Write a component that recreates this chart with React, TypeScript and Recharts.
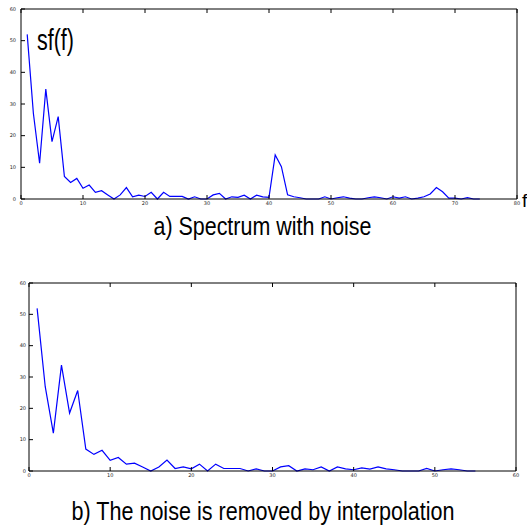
import React from 'react';
import { LineChart, Line, XAxis, YAxis } from 'recharts';

// sf(f), f = 1..74
const noisySpectrum = [
  52, 27, 11.3, 34.7, 18.1, 26, 7.1, 5.2, 6.5, 3.4,
  4.4, 2.1, 2.6, 1.3, 0, 1.3, 3.6, 0.7, 1.2, 0.8,
  2.1, 0, 2.1, 0.8, 0.8, 0.8, 0, 0.7, 0, 0,
  1.3, 1.8, 0, 0.7, 0.5, 1.2, 0, 1.2, 0.7, 0.5,
  13.9, 10.2, 1.3, 0.7, 0.4, 0, 0, 0, 0.7, 0,
  0.4, 0.7, 0.3, 0, 0, 0.4, 0.7, 0.4, 0, 0.7,
  0.3, 0.7, 0, 0.3, 0.7, 1.6, 3.6, 2.3, 0.3, 0.3,
  0, 0.4, 0, 0,
];

// lower panel after interpolation, f = 1..55
const cleanSpectrum = [
  51.9, 26.9, 12.1, 33.8, 18.5, 25.7, 7, 5.3, 6.6, 3.4,
  4.3, 2.2, 2.5, 1.3, 0, 1.3, 3.5, 0.8, 1.3, 0.7,
  2.2, 0, 2.2, 0.8, 0.8, 0.8, 0, 0.7, 0, 0,
  1.3, 1.7, 0, 0.7, 0.4, 1.3, 0, 1.3, 0.7, 0.4,
  1.0, 0.6, 1.3, 0.7, 0.4, 0, 0, 0, 0.8, 0,
  0.4, 0.7, 0.4, 0, 0,
];

const xTicksNoisy = [0, 10, 20, 30, 40, 50, 60, 70, 80];
const xTicksClean = [0, 10, 20, 30, 40, 50, 60];
const yTicks = [0, 10, 20, 30, 40, 50, 60];

const toRows = (vals: number[]) => vals.map((v, i) => ({ f: i + 1, v }));

const tickFont = { fontSize: 5, fill: '#222', fontFamily: 'DejaVu Sans' };
const blank = () => '';

function Spectrum({ rows, xMax, xTicks, height, margin, yWidth, xHeight, yMargin, xMargin }: any) {
  return (
    <LineChart width={527} height={height} data={rows} margin={margin}>
      <XAxis
        xAxisId="b"
        dataKey="f"
        type="number"
        domain={[0, xMax]}
        ticks={xTicks}
        height={xHeight}
        tickSize={-4}
        tickMargin={xMargin}
        stroke="#000"
        tick={tickFont}
        interval={0}
      />
      <XAxis
        xAxisId="t"
        orientation="top"
        dataKey="f"
        type="number"
        domain={[0, xMax]}
        ticks={xTicks}
        height={1}
        tickSize={-4}
        stroke="#000"
        tickFormatter={blank}
      />
      <YAxis
        yAxisId="l"
        domain={[0, 60]}
        ticks={yTicks}
        width={yWidth}
        tickSize={-4}
        tickMargin={yMargin}
        stroke="#000"
        tick={tickFont}
        interval={0}
      />
      <YAxis
        yAxisId="r"
        orientation="right"
        domain={[0, 60]}
        ticks={yTicks}
        width={1}
        tickSize={-4}
        stroke="#000"
        tickFormatter={blank}
      />
      <Line
        xAxisId="b"
        yAxisId="l"
        dataKey="v"
        stroke="#0000ff"
        strokeWidth={1.2}
        dot={false}
        activeDot={false}
        isAnimationActive={false}
      />
    </LineChart>
  );
}

const captionFont = "'Liberation Sans Narrow', 'Liberation Sans', Arial, sans-serif";

export default function App() {
  return (
    <div style={{ position: 'absolute', left: 0, top: 0, width: 527, height: 528, background: '#fff' }}>
      <div style={{ position: 'absolute', left: 0, top: 0 }}>
        <Spectrum
          rows={toRows(noisySpectrum)}
          xMax={80}
          xTicks={xTicksNoisy}
          height={215}
          margin={{ top: 8, right: 9, bottom: 0, left: 0 }}
          yWidth={21}
          xHeight={16}
          yMargin={9}
          xMargin={6}
        />
      </div>
      <div style={{ position: 'absolute', left: 0, top: 270 }}>
        <Spectrum
          rows={toRows(cleanSpectrum)}
          xMax={60}
          xTicks={xTicksClean}
          height={215}
          margin={{ top: 12, right: 10, bottom: 0, left: 0 }}
          yWidth={29}
          xHeight={14}
          yMargin={7}
          xMargin={6}
        />
      </div>
      <svg width={527} height={528} style={{ position: 'absolute', left: 0, top: 0, pointerEvents: 'none' }}>
        <text x={37} y={50} fontSize={29} fontFamily={captionFont} textLength={37} lengthAdjust="spacingAndGlyphs" fill="#000">
          sf(f)
        </text>
        <text x={522} y={207} fontSize={19} fontFamily={captionFont} fill="#000">
          f
        </text>
        <text x={153.5} y={235} fontSize={26} fontFamily={captionFont} textLength={218} lengthAdjust="spacingAndGlyphs" fill="#000">
          a) Spectrum with noise
        </text>
        <text x={71.5} y={520} fontSize={25.5} fontFamily={captionFont} textLength={383} lengthAdjust="spacingAndGlyphs" fill="#000">
          b) The noise is removed by interpolation
        </text>
      </svg>
    </div>
  );
}
